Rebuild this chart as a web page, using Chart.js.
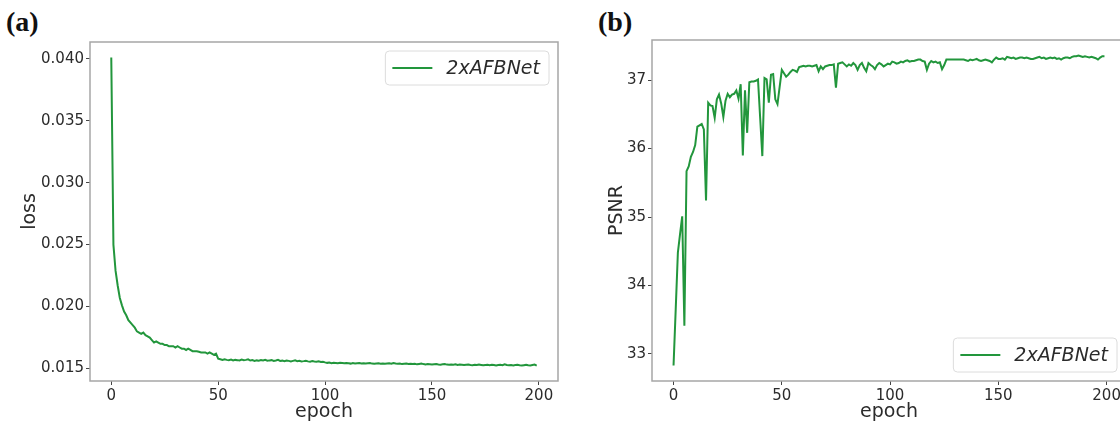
<!DOCTYPE html>
<html>
<head>
<meta charset="utf-8">
<script src="https://cdn.jsdelivr.net/npm/chart.js@4.4.1/dist/chart.umd.min.js"></script>
<style>
  html, body { margin: 0; padding: 0; background: #fff; overflow: hidden; }
  body { width: 1120px; height: 424px; position: relative; }
  canvas { position: absolute; top: 0; }
  #lossCanvas { left: 0; }
  #psnrCanvas { left: 560px; }
  .panel-tag {
    position: absolute; top: 6px;
    font-family: "Liberation Serif", "DejaVu Serif", serif;
    font-weight: bold; font-size: 28px; color: #111;
  }
</style>
</head>
<body>
<div class="panel-tag" style="left:6px">(a)</div>
<div class="panel-tag" style="left:598px">(b)</div>
<canvas id="lossCanvas" width="560" height="424"></canvas>
<canvas id="psnrCanvas" width="568" height="424"></canvas>
<script>
// Training epochs 0..199
const epochs = Array.from({ length: 200 }, (_, i) => i);

const seriesName = '2xAFBNet';

// Training loss per epoch
const lossValues = [
  0.0401, 0.0250, 0.0229, 0.0217, 0.0207, 0.0201, 0.0196, 0.0193, 0.0189, 0.0187,
  0.0185, 0.0183, 0.0180, 0.0179, 0.0178, 0.0179, 0.0177, 0.0176, 0.0175, 0.0173,
  0.0171, 0.0172, 0.0171, 0.0170, 0.0170, 0.0169, 0.0169, 0.0168, 0.0168, 0.0168,
  0.0167, 0.0168, 0.0167, 0.0166, 0.0166, 0.0165, 0.0166, 0.0165, 0.0164, 0.0164,
  0.0164, 0.01635, 0.0163, 0.0163, 0.0163, 0.0162, 0.0163, 0.0162, 0.0161, 0.0162,
  0.0158, 0.01575, 0.0157, 0.01575, 0.0157, 0.01568, 0.01572, 0.01565, 0.0157, 0.01568,
  0.01565, 0.01572, 0.01568, 0.0157, 0.01575, 0.01565, 0.01568, 0.01562, 0.01566, 0.01564,
  0.01568, 0.01565, 0.0157, 0.01563, 0.01566, 0.01568, 0.01562, 0.01565, 0.0157, 0.01562,
  0.01564, 0.0156, 0.01565, 0.01562, 0.01558, 0.01562, 0.01566, 0.0156, 0.01562, 0.01558,
  0.0156, 0.01563, 0.01558, 0.01556, 0.0156, 0.01557, 0.01555, 0.01558, 0.01553, 0.01555,
  0.0155, 0.01546, 0.01548, 0.01544, 0.01547, 0.01545, 0.01543, 0.01546, 0.01544, 0.01542,
  0.01545, 0.01543, 0.0154, 0.01544, 0.01541, 0.01543, 0.01545, 0.01541, 0.01543, 0.0154,
  0.01542, 0.01544, 0.0154, 0.01538, 0.01541, 0.01543, 0.01539, 0.01541, 0.01538, 0.0154,
  0.01542, 0.01539, 0.01545, 0.01541, 0.01538, 0.0154, 0.01536, 0.01539, 0.01541, 0.01537,
  0.01539, 0.01536, 0.01538, 0.01534, 0.01537, 0.0154, 0.01536, 0.01533, 0.01536, 0.01534,
  0.01532, 0.01535, 0.01537, 0.01533, 0.01531, 0.01534, 0.01536, 0.01532, 0.0153, 0.01533,
  0.01531, 0.01534, 0.01529, 0.01532, 0.0153, 0.01528, 0.01531, 0.01533, 0.01529, 0.01527,
  0.0153, 0.01528, 0.01532, 0.01529, 0.01526, 0.01529, 0.01531, 0.01527, 0.0153, 0.01528,
  0.01525, 0.01528, 0.01531, 0.01527, 0.01535, 0.01529, 0.01526, 0.01529, 0.01525, 0.01528,
  0.0153, 0.01526, 0.01524, 0.01527, 0.0153, 0.01526, 0.01524, 0.01528, 0.01532, 0.01524
];

// Validation PSNR (dB) per epoch
const psnrValues = [
  32.83, 33.65, 34.48, 34.75, 35.01, 33.41, 35.67, 35.74, 35.88, 35.95,
  36.05, 36.32, 36.34, 36.36, 36.28, 35.24, 36.67, 36.63, 36.62, 36.45,
  36.72, 36.79, 36.66, 36.46, 36.70, 36.80, 36.75, 36.79, 36.80, 36.85,
  36.73, 36.94, 35.90, 36.85, 36.23, 36.97, 36.98, 36.98, 36.99, 37.01,
  36.45, 35.89, 37.03, 37.01, 36.67, 37.08, 37.09, 36.72, 36.65, 36.90,
  37.15, 37.10, 37.05, 37.08, 37.12, 37.15, 37.14, 37.12, 37.19, 37.20,
  37.21, 37.20, 37.21, 37.21, 37.20, 37.21, 37.22, 37.13, 37.20, 37.16,
  37.20, 37.21, 37.22, 37.22, 37.23, 36.89, 37.24, 37.25, 37.26, 37.23,
  37.20, 37.23, 37.21, 37.25, 37.22, 37.15, 37.22, 37.25, 37.18, 37.13,
  37.25, 37.22, 37.20, 37.16, 37.22, 37.25, 37.23, 37.20, 37.22, 37.24,
  37.23, 37.27, 37.26, 37.24, 37.25, 37.27, 37.26, 37.28, 37.29, 37.27,
  37.28, 37.28, 37.29, 37.30, 37.30, 37.28, 37.27, 37.15, 37.24, 37.28,
  37.26, 37.27, 37.25, 37.26, 37.16, 37.22, 37.30, 37.30, 37.30, 37.30,
  37.30, 37.30, 37.30, 37.30, 37.30, 37.29, 37.28, 37.30, 37.29, 37.30,
  37.31, 37.29, 37.28, 37.29, 37.30, 37.29, 37.28, 37.26, 37.30, 37.33,
  37.31, 37.31, 37.32, 37.30, 37.34, 37.33, 37.32, 37.33, 37.31, 37.32,
  37.33, 37.33, 37.32, 37.33, 37.32, 37.31, 37.31, 37.32, 37.33, 37.34,
  37.32, 37.33, 37.31, 37.32, 37.33, 37.32, 37.33, 37.31, 37.32, 37.30,
  37.32, 37.33, 37.33, 37.32, 37.34, 37.35, 37.35, 37.36, 37.35, 37.34,
  37.35, 37.34, 37.33, 37.34, 37.33, 37.32, 37.30, 37.33, 37.35, 37.35
];

// Axis tick positions
const epochTicks = [0, 50, 100, 150, 200];
const lossTicks = [0.015, 0.020, 0.025, 0.030, 0.035, 0.040];
const psnrTicks = [33, 34, 35, 36, 37];

const LINE_COLOR = '#22963c';
const FRAME_COLOR = '#a6a6a6';
const TEXT_COLOR = '#2b2b2b';
const SANS = '"DejaVu Sans", sans-serif';

// 5% padding around the data range on each axis
function paddedRange(values) {
  const lo = Math.min(...values), hi = Math.max(...values);
  const m = (hi - lo) * 0.05;
  return { min: lo - m, max: hi + m };
}

// Four-sided frame around the plotting area
const framePlugin = {
  id: 'frame',
  afterDatasetsDraw(chart) {
    const { ctx, chartArea: a } = chart;
    ctx.save();
    ctx.strokeStyle = FRAME_COLOR;
    ctx.lineWidth = 1.5;
    ctx.strokeRect(a.left, a.top, a.right - a.left, a.bottom - a.top);
    ctx.restore();
  }
};

// Legend box drawn inside the plotting area
const insideLegendPlugin = {
  id: 'insideLegend',
  afterDraw(chart, args, opts) {
    const { ctx, chartArea: a } = chart;
    const ds = chart.data.datasets[0];
    ctx.save();
    ctx.font = 'italic 19px ' + SANS;
    const tw = ctx.measureText(ds.label).width;
    const padL = 7, lineLen = 40, gap = 14, padR = 9, h = 34;
    const w = padL + lineLen + gap + tw + padR;
    const x = a.right - opts.inset - w;
    const y = opts.corner === 'upper' ? a.top + opts.inset : a.bottom - opts.inset - h;
    ctx.beginPath();
    ctx.roundRect(x, y, w, h, 4);
    ctx.fillStyle = 'rgba(255,255,255,0.85)';
    ctx.fill();
    ctx.strokeStyle = '#dcdcdc';
    ctx.lineWidth = 1;
    ctx.stroke();
    ctx.beginPath();
    ctx.moveTo(x + padL, y + h / 2);
    ctx.lineTo(x + padL + lineLen, y + h / 2);
    ctx.strokeStyle = ds.borderColor;
    ctx.lineWidth = 2;
    ctx.stroke();
    ctx.fillStyle = TEXT_COLOR;
    ctx.textBaseline = 'middle';
    ctx.fillText(ds.label, x + padL + lineLen + gap, y + h / 2 + 1);
    ctx.restore();
  }
};

function makeChart(canvasId, values, yTicks, yTitle, yFmt, layout, legendCorner) {
  const xr = paddedRange(epochs);
  const yr = paddedRange(values);
  return new Chart(document.getElementById(canvasId), {
    type: 'line',
    data: {
      datasets: [{
        label: seriesName,
        data: epochs.map((e, i) => ({ x: e, y: values[i] })),
        borderColor: LINE_COLOR,
        borderWidth: 2,
        pointRadius: 0,
        tension: 0,
        fill: false
      }]
    },
    options: {
      responsive: false,
      animation: false,
      devicePixelRatio: 1,
      layout: { padding: { top: layout.top, right: layout.right, left: 0, bottom: 0 } },
      plugins: {
        legend: { display: false },
        tooltip: { enabled: false },
        insideLegend: { corner: legendCorner, inset: 9 }
      },
      scales: {
        x: {
          type: 'linear',
          min: xr.min,
          max: xr.max,
          afterBuildTicks: s => { s.ticks = epochTicks.map(v => ({ value: v })); },
          afterFit: s => { s.height = layout.xHeight; },
          border: { display: false },
          grid: { drawOnChartArea: false, drawTicks: true, tickLength: 4, tickColor: '#444', tickWidth: 1 },
          ticks: {
            autoSkip: false, maxRotation: 0, padding: 2,
            color: TEXT_COLOR, font: { family: SANS, size: 15 },
            callback: v => String(v)
          },
          title: {
            display: true, text: 'epoch', color: TEXT_COLOR,
            font: { family: SANS, size: 19 }, padding: { top: 0, bottom: 1 }
          }
        },
        y: {
          type: 'linear',
          min: yr.min,
          max: yr.max,
          afterBuildTicks: s => { s.ticks = yTicks.map(v => ({ value: v })); },
          afterFit: s => { s.width = layout.yWidth; },
          border: { display: false },
          grid: { drawOnChartArea: false, drawTicks: true, tickLength: 4, tickColor: '#444', tickWidth: 1 },
          ticks: {
            autoSkip: false, padding: 2,
            color: TEXT_COLOR, font: { family: SANS, size: 15 },
            callback: yFmt
          },
          title: {
            display: true, text: yTitle, color: TEXT_COLOR,
            font: { family: SANS, size: 19 }, padding: { top: layout.yTitlePad, bottom: 0 }
          }
        }
      }
    },
    plugins: [framePlugin, insideLegendPlugin]
  });
}

makeChart('lossCanvas', lossValues, lossTicks, 'loss', v => v.toFixed(3),
  { top: 42, right: 2, xHeight: 43, yWidth: 90, yTitlePad: 19 }, 'upper');

makeChart('psnrCanvas', psnrValues, psnrTicks, 'PSNR', v => String(v),
  { top: 40, right: 2, xHeight: 43, yWidth: 92, yTitlePad: 46 }, 'lower');
</script>
</body>
</html>
